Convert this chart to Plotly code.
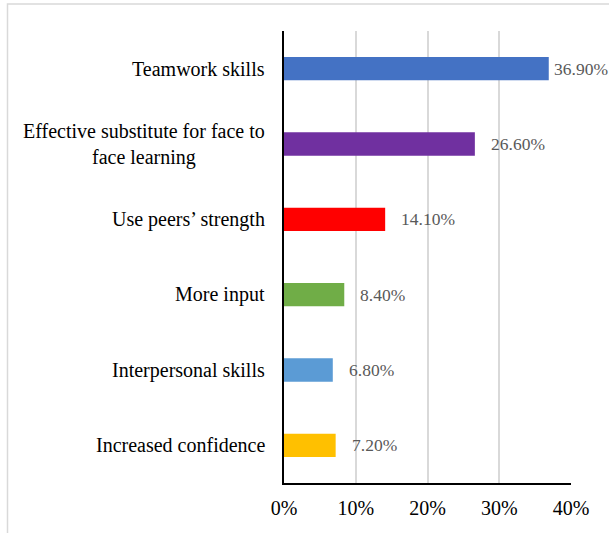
import plotly.graph_objects as go

categories = [
    "Teamwork skills",
    "Effective substitute for face to<br>face learning",
    "Use peers\u2019 strength",
    "More input",
    "Interpersonal skills",
    "Increased confidence",
]
values = [0.369, 0.266, 0.141, 0.084, 0.068, 0.072]
colors = ["#4472C4", "#7030A0", "#FF0000", "#70AD47", "#5B9BD5", "#FFC000"]
tick_vals = [0, 0.1, 0.2, 0.3, 0.4]
tick_text = ["0%", "10%", "20%", "30%", "40%"]

W, H = 609, 533
ML, MR, MT, MB = 284, 38, 31, 50
FONT = "Liberation Serif, Times New Roman, serif"
XMAX = 0.4

fig = go.Figure(
    go.Bar(
        x=values,
        y=categories,
        orientation="h",
        marker=dict(color=colors, line=dict(width=0)),
        width=0.31,
        hoverinfo="skip",
    )
)

annotations = []
plot_w = W - ML - MR
label_w = 57
for cat, v in zip(categories, values):
    # category labels (centered multi-line, right anchored)
    annotations.append(dict(
        x=0, xref="paper", y=cat, yref="y", xanchor="right", yanchor="middle",
        xshift=-17, text=cat, showarrow=False, align="center",
        font=dict(family=FONT, size=20, color="#000000"),
    ))
    # data labels, kept inside the figure width
    end_px = ML + v / XMAX * plot_w
    shift = min(14, W - label_w - end_px)
    annotations.append(dict(
        x=v, xref="x", y=cat, yref="y", xanchor="left", yanchor="middle",
        xshift=shift, text=f"{v*100:.2f}%", showarrow=False,
        font=dict(family=FONT, size=17.5, color="#595959"),
    ))

fig.update_layout(
    width=W, height=H,
    margin=dict(l=ML, r=MR, t=MT, b=MB),
    paper_bgcolor="white", plot_bgcolor="white",
    showlegend=False,
    annotations=annotations,
    font=dict(family=FONT, size=20, color="#000000"),
    xaxis=dict(
        range=[0, XMAX], tickvals=tick_vals, ticktext=tick_text,
        showgrid=True, gridcolor="#D9D9D9", gridwidth=1.5,
        zeroline=False, showline=True, linecolor="#000000", linewidth=2,
        ticks="", ticklabelstandoff=6,
        tickfont=dict(family=FONT, size=20, color="#000000"),
        fixedrange=True,
    ),
    yaxis=dict(
        autorange="reversed", showticklabels=False, showgrid=False,
        zeroline=False, showline=True, linecolor="#000000", linewidth=2,
        ticks="", fixedrange=True,
    ),
    shapes=[dict(
        type="rect", xref="paper", yref="paper",
        x0=(7.5 - ML) / plot_w, x1=(W + 10 - ML) / plot_w,
        y0=-(MB + 10) / (H - MT - MB), y1=(H - MB - 4) / (H - MT - MB),
        line=dict(color="#D9D9D9", width=1.5), layer="below",
    )],
)

fig.write_html("out.html")
